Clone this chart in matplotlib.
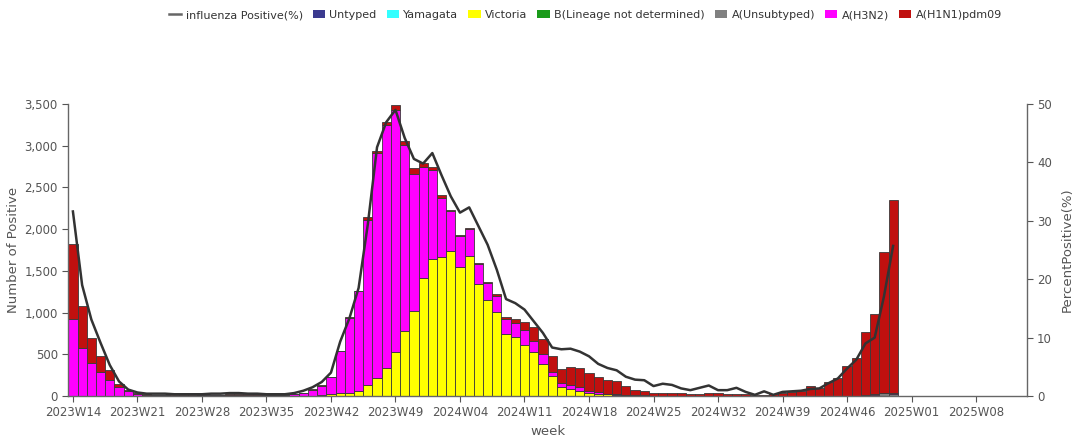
import numpy as np
import matplotlib
matplotlib.use("Agg")
import matplotlib.pyplot as plt
from matplotlib.patches import Patch
from matplotlib.lines import Line2D
from matplotlib.ticker import FuncFormatter

# week axis: 2023W14 .. 2025W13
weeks = ([f"2023W{w:02d}" for w in range(14, 53)]
         + [f"2024W{w:02d}" for w in range(1, 53)]
         + [f"2025W{w:02d}" for w in range(1, 14)])

# counts per week, 2023W14 .. 2024W51
victoria = [0] * 26 + [
    5, 10, 20, 30, 40, 64, 132, 212, 341, 533, 774, 1022, 1415, 1648, 1672, 1736,
    1548, 1676, 1343, 1155, 1002, 742, 706, 613, 533, 385, 240, 110, 84, 62, 40,
    28, 18, 12, 8, 5, 4] + [2] * 8 + [1] * 5 + [0] * 14

h3n2 = [
    920, 580, 400, 285, 190, 105, 55, 20, 10, 8, 6, 5, 5, 5, 6, 6, 8, 10, 12, 12,
    10, 8, 8, 12, 22, 38, 70, 115, 205, 510, 900, 1190, 1975, 2695, 2910, 2900,
    2235, 1645, 1330, 1060, 705, 480, 375, 330, 245, 200, 200, 180, 170, 180, 130,
    120, 50, 48, 48, 45, 20, 15, 10, 8, 5] + [3] * 10 + [2] * 3 + [1] * 6 + [
    2, 2, 3, 3, 5, 5, 5, 10, 10, 10]

h1n1 = [
    900, 500, 290, 190, 125, 40, 20, 12, 8, 6, 6, 5, 5, 5, 6, 7, 8, 10, 10, 8,
    8, 6, 5, 3, 2, 2, 3, 3, 3, 5, 5, 10, 40, 33, 39, 56, 53, 63, 44, 32,
    32, 15, 10, 10, 8, 8, 20, 20, 48, 100, 161, 177, 189, 170, 213, 225, 213, 189, 162, 160,
    107, 67, 48, 30, 27, 30, 25, 20, 20, 25, 25, 22, 17, 17, 13, 10, 24, 34, 44, 59,
    118, 93, 162, 217, 355, 455, 755, 960, 1690, 2315]

a_unsub = [0] * 86 + [5, 10, 30, 25]
b_lnd = [0] * 90
yamagata = [0] * 90
untyped = [0] * 90

pos_rate = [
    31.6, 19.0, 13.1, 9.1, 5.3, 2.5, 1.1, 0.6, 0.4, 0.4, 0.4, 0.3, 0.3, 0.3, 0.3, 0.4,
    0.4, 0.5, 0.5, 0.4, 0.4, 0.3, 0.3, 0.3, 0.5, 0.9, 1.5, 2.4, 4.0, 9.3, 13.3, 18.5,
    29.4, 42.6, 46.9, 49.0, 44.2, 40.6, 39.8, 41.6, 37.8, 34.2, 31.4, 32.3, 29.1, 25.9,
    21.6, 16.6, 15.9, 14.8, 12.8, 10.8, 8.3, 8.0, 8.1, 7.6, 6.8, 5.5, 4.8, 4.4, 3.3,
    2.8, 2.7, 1.7, 2.1, 1.9, 1.3, 1.0, 1.4, 1.8, 1.0, 1.0, 1.4, 0.7, 0.2, 0.8, 0.2,
    0.7, 0.8, 0.9, 1.2, 1.3, 2.2, 3.0, 4.7, 6.2, 9.0, 10.0, 17.0, 25.7]

series = [
    ("Untyped", untyped, "#3b3a8f"),
    ("Yamagata", yamagata, "#33ffff"),
    ("Victoria", victoria, "#ffff00"),
    ("B(Lineage not determined)", b_lnd, "#1a9a1a"),
    ("A(Unsubtyped)", a_unsub, "#808080"),
    ("A(H3N2)", h3n2, "#ff00ff"),
    ("A(H1N1)pdm09", h1n1, "#c0100f"),
]

plt.rcParams["font.family"] = ["DejaVu Sans"]
fig = plt.figure(figsize=(10.74, 4.40), dpi=100)
ax = fig.add_axes([0.0636, 0.1, 0.8924, 0.6636])
ax2 = ax.twinx()

x = np.arange(len(victoria))
bottom = np.zeros(len(x))
for name, vals, col in series:
    vals = np.array(vals, dtype=float)
    ax.bar(x, vals, bottom=bottom, width=1.0, color=col,
           edgecolor="#3a3a3a", linewidth=0.6, zorder=2)
    bottom += vals

ax2.plot(x, pos_rate, color="#333333", linewidth=1.8, zorder=3)

ax.set_xlim(-0.5, len(weeks) - 0.5)
ax.set_ylim(0, 3500)
ax2.set_ylim(0, 50)
ax.set_yticks(range(0, 3501, 500))
ax.yaxis.set_major_formatter(FuncFormatter(lambda v, p: f"{int(v):,}"))
ax2.set_yticks(range(0, 51, 10))

tick_pos = list(range(0, len(weeks), 7))
ax.set_xticks(tick_pos)
ax.set_xticklabels([weeks[i] for i in tick_pos])

for a in (ax, ax2):
    a.spines["top"].set_visible(False)
    for s in ("left", "right", "bottom"):
        a.spines[s].set_color("#666666")
        a.spines[s].set_linewidth(1.0)
    a.tick_params(colors="#555555", labelsize=8.5, length=4, width=0.8)
ax.spines["right"].set_visible(False)
ax2.spines["left"].set_visible(False)
ax2.spines["bottom"].set_visible(False)

ax.set_xlabel("week", fontsize=9.5, color="#555555", labelpad=4)
ax.set_ylabel("Number of Positive", fontsize=9.5, color="#555555", labelpad=3)
ax2.set_ylabel("PercentPositive(%)", fontsize=9.5, color="#555555", labelpad=6)

handles = [Line2D([0], [0], color="#666666", linewidth=1.8)]
labels = ["influenza Positive(%)"]
for name, vals, col in series:
    handles.append(Patch(facecolor=col, edgecolor="none"))
    labels.append(name)
fig.legend(handles, labels, loc="upper center", bbox_to_anchor=(0.545, 1.0),
           ncol=8, frameon=False, fontsize=8, handlelength=1.1, handleheight=0.8,
           handletextpad=0.4, columnspacing=0.9, labelcolor="#333333")

fig.savefig("out.png", dpi=100)
